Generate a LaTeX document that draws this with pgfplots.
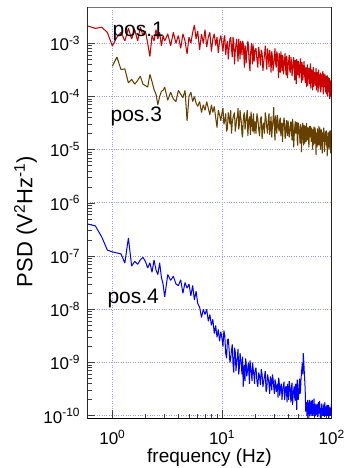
\documentclass[border=0pt]{standalone}
\usepackage{pgfplots}
\pgfplotsset{compat=1.18}
\usepackage{pgfplotstable}
\usepackage{fontspec}
\setmainfont{Liberation Sans}
\definecolor{cred}{RGB}{204,0,0}
\definecolor{cbrown}{RGB}{102,64,0}
\definecolor{cblue}{RGB}{0,0,255}
\definecolor{cgrid}{RGB}{150,150,255}

\pgfplotstableread{
f r b u
0.6 2.1e-3 nan 4.0e-7
0.7 1.9e-3 nan 3.7e-7
0.8 2.0e-3 nan 2.3e-7
0.9 1.6e-3 nan 1.3e-7
1.0 8.9e-4 3.7e-4 1.2e-7
1.1 1.3e-3 5.5e-4 1.15e-7
1.2 1.6e-3 3.2e-4 1.1e-7
1.3 1.1e-3 3.3e-4 7.4e-8
1.4 1.9e-3 1.8e-4 2.2e-7
1.5 1.2e-3 2.1e-4 6.5e-8
1.6 1.8e-3 1.7e-4 8.0e-8
1.7 1.1e-3 2.0e-4 7.0e-8
1.8 2.0e-3 2.4e-4 8.5e-8
1.9 1.4e-3 1.7e-4 9.5e-8
2.0 1.7e-3 1.6e-4 8.0e-8
2.1 1.0e-3 1.5e-4 6.0e-8
2.2 5.6e-4 2.6e-4 7.5e-8
2.3 1.4e-3 1.9e-4 5.0e-8
2.4 1.1e-3 1.35e-4 8.5e-8
2.5 1.8e-3 1.1e-4 5.5e-8
2.6 1.2e-3 7.0e-5 4.5e-8
2.7 1.6e-3 1.0e-4 7.5e-8
2.8 8.9e-4 1.25e-4 4.0e-8
2.9 1.4e-3 1.3e-4 3.0e-8
3.0 1.1e-3 1.5e-4 1.7e-8
3.2 1.5e-3 8.5e-5 4.5e-8
3.4 9.0e-4 1.2e-4 3.5e-8
3.6 1.6e-3 9.0e-5 4.2e-8
3.8 1.0e-3 8.0e-5 3.0e-8
4.0 1.4e-3 1.3e-4 2.8e-8
4.2 8.0e-4 1.1e-4 3.6e-8
4.4 1.5e-3 9.5e-5 2.0e-8
4.6 1.1e-3 1.3e-4 3.2e-8
4.8 6.3e-4 3.5e-5 2.5e-8
5.0 1.3e-3 1.0e-4 3.0e-8
5.2 1.0e-3 1.2e-4 1.8e-8
5.4 1.6e-3 8.0e-5 2.8e-8
5.6 2.2e-3 1.0e-4 1.5e-8
5.8 1.2e-3 7.5e-5 2.2e-8
6.0 1.7e-3 6.5e-5 1.3e-8
6.25 7.5e-4 8.0e-5 1.1e-8
6.5 1.5e-3 5.0e-5 7.0e-9
6.75 1.0e-3 7.0e-5 1.0e-8
7.0 1.8e-3 5.5e-5 8.0e-9
7.25 8.5e-4 8.0e-5 1.0e-8
7.5 1.3e-3 6.0e-5 6.0e-9
7.75 1.6e-3 4.5e-5 8.0e-9
8.0 7.0e-4 7.0e-5 5.0e-9
8.25 1.2e-3 5.0e-5 6.5e-9
8.5 1.5e-3 6.5e-5 3.5e-9
8.75 9.0e-4 4.0e-5 5.0e-9
9.0 1.3e-3 2.6e-5 3.0e-9
9.25 6.5e-4 5.5e-5 4.2e-9
9.5 1.1e-3 4.5e-5 2.5e-9
9.75 1.4e-3 3.5e-5 3.8e-9
10.0 9.5e-4 5.0e-5 2.8e-9
10.2 7.0e-4 6.0e-5 2.0e-9
10.4 1.2e-3 3.0e-5 4.0e-9
10.6 1.4e-3 3.5e-5 3.2e-9
10.8 6.0e-4 4.8e-5 1.5e-9
11.0 9.0e-4 2.2e-5 1.2e-9
11.2 1.1e-3 2.5e-5 2.6e-9
11.4 5.0e-4 5.0e-5 2.8e-9
11.6 8.0e-4 4.0e-5 1.8e-9
11.8 1.2e-3 3.0e-5 1.0e-9
12.0 1.3e-3 5.5e-5 1.2e-9
12.2 8.0e-4 2.0e-5 1.7e-9
12.4 5.5e-4 3.2e-5 2.2e-9
12.6 1.3e-3 4.0e-5 9.0e-10
12.8 1.0e-3 4.5e-5 6.5e-10
13.0 4.0e-4 5.0e-5 1.9e-9
13.2 7.0e-4 2.2e-5 1.6e-9
13.4 9.5e-4 2.8e-5 7.0e-10
13.6 1.2e-3 3.8e-5 1.0e-9
13.8 7.0e-4 4.2e-5 1.3e-9
14.0 4.5e-4 6.0e-5 1.8e-9
14.2 1.2e-3 2.4e-5 6.0e-10
14.4 9.0e-4 3.0e-5 8.0e-10
14.6 5.0e-4 5.5e-5 1.5e-9
14.8 1.1e-3 4.2e-5 1.2e-9
15.0 8.5e-4 3.2e-5 9.0e-10
15.2 6.0e-4 2.0e-5 6.0e-10
15.4 1.1e-3 1.7e-5 1.3e-9
15.6 1.0e-3 3.5e-5 3.5e-10
15.8 6.0e-4 4.5e-5 7.0e-10
16.0 3.5e-4 5.0e-5 9.0e-10
16.2 9.0e-4 2.4e-5 4.5e-10
16.4 8.5e-4 2.8e-5 1.2e-9
16.6 4.2e-4 3.8e-5 1.0e-9
16.8 6.5e-4 4.5e-5 5.5e-10
17.0 7.5e-4 5.5e-5 6.5e-10
17.2 1.1e-3 1.8e-5 8.0e-10
17.4 9.0e-4 2.8e-5 1.0e-9
17.6 5.0e-4 3.6e-5 6.0e-10
17.8 3.8e-4 4.2e-5 4.0e-10
18.0 3.0e-4 2.6e-5 1.1e-9
18.2 6.5e-4 1.9e-5 8.5e-10
18.4 8.0e-4 5.2e-5 7.0e-10
18.6 1.0e-3 3.6e-5 5.5e-10
18.8 6.0e-4 3.0e-5 4.5e-10
19.0 4.0e-4 2.2e-5 1.0e-9
19.2 9.5e-4 4.0e-5 8.0e-10
19.4 7.0e-4 4.8e-5 6.5e-10
19.6 4.5e-4 2.0e-5 5.5e-10
19.8 5.5e-4 2.8e-5 4.0e-10
20.0 7.5e-4 3.4e-5 7.0e-10
20.4 8.0e-4 2.0e-5 8.0e-10
20.8 5.0e-4 4.8e-5 4.5e-10
21.2 3.5e-4 3.8e-5 3.5e-10
21.6 8.5e-4 2.4e-5 6.5e-10
22.0 6.0e-4 1.8e-5 5.5e-10
22.4 3.8e-4 3.8e-5 3.8e-10
22.8 7.5e-4 4.2e-5 7.5e-10
23.2 6.5e-4 1.6e-5 6.0e-10
23.6 3.0e-4 2.8e-5 3.5e-10
24.0 4.5e-4 3.2e-5 4.5e-10
24.4 6.0e-4 2.0e-5 5.5e-10
24.8 9.0e-4 5.0e-5 7.0e-10
25.2 5.0e-4 3.8e-5 2.8e-10
25.6 3.2e-4 2.6e-5 3.2e-10
26.0 8.0e-4 2.0e-5 6.0e-10
26.4 6.0e-4 3.6e-5 5.0e-10
26.8 3.6e-4 4.8e-5 4.0e-10
27.2 7.5e-4 1.9e-5 2.6e-10
27.6 5.5e-4 2.6e-5 5.5e-10
28.0 2.8e-4 4.2e-5 4.5e-10
28.4 7.0e-4 1.7e-5 3.0e-10
28.8 5.5e-4 2.8e-5 6.0e-10
29.2 3.0e-4 3.6e-5 5.0e-10
29.6 4.0e-4 6.3e-5 3.5e-10
30.0 5.5e-4 2.4e-5 2.6e-10
30.4 8.0e-4 1.5e-5 4.8e-10
30.8 4.2e-4 4.4e-5 4.2e-10
31.2 3.5e-4 3.0e-5 2.8e-10
31.6 7.0e-4 2.0e-5 3.2e-10
32.0 6.0e-4 4.5e-5 4.0e-10
32.4 3.8e-4 3.4e-5 2.2e-10
32.8 2.2e-4 2.5e-5 5.2e-10
33.2 6.5e-4 2.2e-5 4.5e-10
33.6 5.0e-4 3.6e-5 2.4e-10
34.0 2.8e-4 4.0e-5 3.0e-10
34.4 7.0e-4 1.8e-5 3.8e-10
34.8 4.6e-4 2.6e-5 4.0e-10
35.2 3.0e-4 3.2e-5 2.0e-10
35.6 6.0e-4 1.4e-5 2.6e-10
36.0 5.5e-4 2.4e-5 3.3e-10
36.4 2.6e-4 3.4e-5 3.8e-10
36.8 4.0e-4 4.0e-5 4.4e-10
37.2 4.8e-4 2.8e-5 2.0e-10
37.6 6.5e-4 1.6e-5 2.5e-10
38.0 3.4e-4 1.9e-5 3.4e-10
38.4 2.5e-4 2.9e-5 3.6e-10
38.8 5.8e-4 3.6e-5 2.6e-10
39.2 4.8e-4 2.2e-5 1.8e-10
39.6 2.2e-4 1.8e-5 4.0e-10
40.0 3.6e-4 3.5e-5 3.0e-10
40.5 4.6e-4 2.6e-5 2.0e-10
41 6.0e-4 1.7e-5 4.5e-10
41.5 3.0e-4 2.0e-5 3.6e-10
42 2.8e-4 3.0e-5 2.6e-10
42.5 5.5e-4 3.4e-5 1.8e-10
43 4.5e-4 2.2e-5 3.5e-10
43.5 2.4e-4 1.5e-5 4.2e-10
44 3.2e-4 3.8e-5 1.6e-10
44.5 4.2e-4 2.8e-5 2.4e-10
45 5.5e-4 1.1e-5 3.0e-10
45.5 3.4e-4 1.8e-5 3.6e-10
46 2.0e-4 2.6e-5 2.2e-10
46.5 4.8e-4 3.4e-5 1.9e-10
47 4.0e-4 2.0e-5 4.0e-10
47.5 1.7e-4 2.4e-5 3.0e-10
48 5.0e-4 3.3e-5 1.3e-10
48.5 3.6e-4 1.5e-5 4.8e-10
49 2.5e-4 1.2e-5 3.2e-10
49.5 4.6e-4 3.2e-5 2.0e-10
50 4.2e-4 2.8e-5 2.4e-10
50.5 2.2e-4 2.2e-5 3.8e-10
51 3.0e-4 1.8e-5 5.0e-10
51.5 4.0e-4 1.3e-5 2.6e-10
52 5.2e-4 3.0e-5 3.0e-10
52.5 2.8e-4 2.6e-5 4.8e-10
53 1.8e-4 9.0e-6 6.5e-10
53.5 4.4e-4 1.8e-5 8.0e-10
54 3.8e-4 2.4e-5 1.0e-9
54.5 2.0e-4 3.2e-5 6.0e-10
55 2.6e-4 1.6e-5 1.5e-9
55.5 3.6e-4 1.2e-5 1.2e-9
56 4.6e-4 2.9e-5 8.0e-10
56.5 2.6e-4 2.2e-5 5.5e-10
57 2.2e-4 1.3e-5 4.0e-10
57.5 1.8e-4 2.8e-5 2.5e-10
58 3.5e-4 2.2e-5 1.2e-10
58.5 3.0e-4 1.4e-5 1.6e-10
59 1.5e-4 3.2e-5 1.8e-10
59.5 2.4e-4 2.0e-5 1.0e-10
60 4.0e-4 1.5e-5 1.1e-10
60.5 1.6e-4 2.6e-5 2.0e-10
61 2.8e-4 2.5e-5 1.6e-10
61.5 3.4e-4 1.6e-5 1.3e-10
62 3.3e-4 1.1e-5 9.0e-11
62.5 2.0e-4 2.8e-5 1.7e-10
63 1.7e-4 2.1e-5 2.0e-10
63.5 3.0e-4 1.7e-5 1.0e-10
64 4.2e-4 2.8e-5 1.2e-10
64.5 1.4e-4 2.2e-5 1.6e-10
65 2.4e-4 1.4e-5 1.9e-10
65.5 3.2e-4 2.6e-5 1.2e-10
66 3.0e-4 2.3e-5 1.0e-10
66.5 2.0e-4 1.5e-5 2.0e-10
67 1.3e-4 1.0e-5 1.5e-10
67.5 2.6e-4 2.4e-5 1.0e-10
68 3.6e-4 2.0e-5 1.1e-10
68.5 1.5e-4 1.2e-5 1.5e-10
69 2.2e-4 2.7e-5 2.1e-10
69.5 2.8e-4 2.0e-5 1.2e-10
70 2.8e-4 1.3e-5 9.5e-11
70.5 2.0e-4 2.6e-5 1.7e-10
71 1.6e-4 2.2e-5 1.3e-10
71.5 2.6e-4 1.6e-5 1.0e-10
72 3.4e-4 8.0e-6 1.6e-10
72.5 1.3e-4 2.1e-5 1.3e-10
73 2.0e-4 1.9e-5 1.05e-10
73.5 2.9e-4 1.1e-5 1.7e-10
74 2.6e-4 2.5e-5 1.4e-10
74.5 1.8e-4 2.2e-5 9.5e-11
75 1.2e-4 1.2e-5 1.0e-10
75.5 2.2e-4 1.7e-5 1.5e-10
76 3.2e-4 2.0e-5 1.8e-10
76.5 1.4e-4 2.8e-5 1.2e-10
77 2.1e-4 1.5e-5 1.1e-10
77.5 2.6e-4 1.2e-5 1.9e-10
78 1.6e-4 2.6e-5 1.5e-10
78.5 1.9e-4 2.0e-5 1.0e-10
79 2.8e-4 1.0e-5 9.0e-11
79.5 1.2e-4 1.5e-5 1.4e-10
80 1.4e-4 1.8e-5 1.3e-10
80.5 2.6e-4 2.4e-5 1.1e-10
81 2.4e-4 2.3e-5 1.6e-10
81.5 1.5e-4 1.3e-5 1.7e-10
82 1.9e-4 8.5e-6 1.0e-10
82.5 2.2e-4 2.1e-5 1.2e-10
83 3.0e-4 2.0e-5 1.4e-10
83.5 1.3e-4 1.6e-5 1.0e-10
84 1.1e-4 1.4e-5 1.2e-10
84.5 2.7e-4 2.6e-5 1.5e-10
85 2.3e-4 2.4e-5 1.7e-10
85.5 1.5e-4 1.1e-5 1.2e-10
86 1.7e-4 9.0e-6 9.5e-11
86.5 2.1e-4 2.0e-5 1.8e-10
87 2.6e-4 1.7e-5 1.3e-10
87.5 1.6e-4 1.4e-5 1.0e-10
88 1.2e-4 2.2e-5 1.1e-10
88.5 2.4e-4 1.8e-5 1.4e-10
89 2.0e-4 1.2e-5 1.5e-10
89.5 1.1e-4 2.3e-5 1.1e-10
90 1.5e-4 1.9e-5 1.0e-10
90.5 2.0e-4 1.3e-5 1.6e-10
91 2.5e-4 7.5e-6 1.4e-10
91.5 1.7e-4 1.8e-5 1.0e-10
92 1.0e-4 1.6e-5 1.2e-10
92.5 2.3e-4 1.0e-5 1.3e-10
93 1.9e-4 2.1e-5 1.6e-10
93.5 1.2e-4 1.9e-5 1.1e-10
94 1.4e-4 1.1e-5 9.0e-11
94.5 2.1e-4 1.5e-5 1.5e-10
95 2.2e-4 1.8e-5 1.3e-10
95.5 1.5e-4 2.2e-5 1.0e-10
96 9.0e-5 1.3e-5 1.1e-10
96.5 2.0e-4 1.0e-5 1.4e-10
97 1.8e-4 2.3e-5 1.4e-10
97.5 1.0e-4 1.7e-5 1.2e-10
98 1.3e-4 8.5e-6 1.0e-10
98.5 1.7e-4 2.0e-5 1.3e-10
99 2.0e-4 1.6e-5 1.5e-10
99.5 1.4e-4 1.1e-5 1.2e-10
100 1.1e-4 1.2e-5 1.0e-9
}\psd

\begin{document}
\begin{tikzpicture}
\begin{axis}[
  scale only axis,
  width=244.4pt, height=410.7pt,
  xmode=log, ymode=log,
  xmin=0.591, xmax=100,
  ymin=0.91e-10, ymax=4.73e-3,
  axis line style={black!55, line width=0.6pt},
  tick pos=left,
  tick align=inside,
  major tick length=8pt,
  minor tick length=4.5pt,
  every tick/.style={black!75, line width=0.7pt},
  grid=major,
  major grid style={cgrid, dotted, line width=0.9pt},
  xtick={1,10,100},
  xticklabels={10\textsuperscript{0},10\textsuperscript{1},10\textsuperscript{2}},
  ytick={1e-10,1e-9,1e-8,1e-7,1e-6,1e-5,1e-4,1e-3},
  yticklabels={10\textsuperscript{-10},10\textsuperscript{-9},10\textsuperscript{-8},10\textsuperscript{-7},10\textsuperscript{-6},10\textsuperscript{-5},10\textsuperscript{-4},10\textsuperscript{-3}},
  ticklabel style={font=\fontsize{17}{20}\selectfont, inner sep=0pt},
  xticklabel shift=12pt,
  yticklabel shift=7pt,
  xlabel={frequency (Hz)},
  xlabel style={font=\fontsize{19}{22}\selectfont, at={(rel axis cs:0.5,-0.1073)}, anchor=base, inner sep=0pt},
  ylabel={PSD (V\textsuperscript{2}Hz\textsuperscript{-1})},
  ylabel style={font=\fontsize{22}{26}\selectfont, at={(rel axis cs:-0.2245,0.478)}, anchor=base, inner sep=0pt},
  clip=true,
]
\addplot[cred, line width=1.05pt, line join=bevel] table[x=f, y=r] {\psd};
\addplot[cbrown, line width=1.05pt, line join=bevel] table[x=f, y=b] {\psd};
\addplot[cblue, line width=1.0pt, line join=bevel] table[x=f, y=u] {\psd};
\node[anchor=base west, inner sep=0pt, font=\fontsize{21}{24}\selectfont] at (axis cs:1.0,1.36e-3) {pos.1};
\node[anchor=base west, inner sep=0pt, font=\fontsize{21}{24}\selectfont] at (axis cs:0.96,3.4e-5) {pos.3};
\node[anchor=base west, inner sep=0pt, font=\fontsize{21}{24}\selectfont] at (axis cs:0.9,1.3e-8) {pos.4};
\draw[black, line width=0.9pt] (rel axis cs:0,1) -- (rel axis cs:0,0) -- (rel axis cs:1,0) -- (rel axis cs:1,1);
\end{axis}
\pgfresetboundingbox
\path ([shift={(-87.3pt,-50pt)}]current axis.south west) rectangle ([shift={(15.3pt,7.3pt)}]current axis.north east);
\end{tikzpicture}
\end{document}
